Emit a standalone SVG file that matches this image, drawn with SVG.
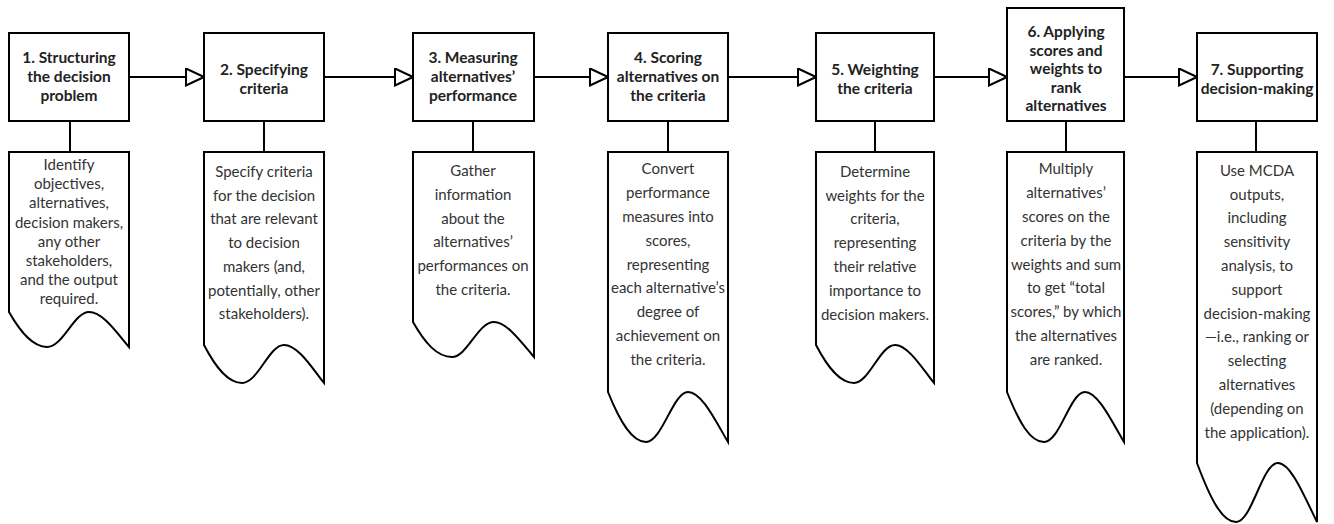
<svg xmlns="http://www.w3.org/2000/svg" width="1334" height="524" viewBox="0 0 1334 524">
<style>
.box{fill:#fff;stroke:#000;stroke-width:2}
.doc{fill:#fff;stroke:#000;stroke-width:2;stroke-linejoin:miter}
.t{font-family:Lato,"Liberation Sans",sans-serif;font-weight:bold;font-size:15.5px;fill:#222;text-anchor:middle}
.b{font-family:Lato,"Liberation Sans",sans-serif;font-size:15px;fill:#333;text-anchor:middle}
.c{fill:none;stroke:#000;stroke-width:2}
</style>
<defs>
<marker id="tri" viewBox="0 0 20 19" refX="19" refY="9.5" markerWidth="20" markerHeight="19" markerUnits="userSpaceOnUse" orient="auto">
<path d="M1,1 L19,9.5 L1,18 Z" fill="#fff" stroke="#000" stroke-width="2"/>
</marker>
</defs>
<rect width="1334" height="524" fill="#fff"/>
<g id="connectors">
<line class="c" x1="129" y1="77" x2="204" y2="77" marker-end="url(#tri)"/>
<line class="c" x1="324" y1="77" x2="413" y2="77" marker-end="url(#tri)"/>
<line class="c" x1="534" y1="77" x2="608" y2="77" marker-end="url(#tri)"/>
<line class="c" x1="728" y1="77" x2="816" y2="77" marker-end="url(#tri)"/>
<line class="c" x1="934" y1="77" x2="1007" y2="77" marker-end="url(#tri)"/>
<line class="c" x1="1124" y1="77" x2="1197" y2="77" marker-end="url(#tri)"/>
<line class="c" x1="70" y1="121" x2="70" y2="152"/>
<line class="c" x1="264" y1="121" x2="264" y2="152"/>
<line class="c" x1="473" y1="121" x2="473" y2="152"/>
<line class="c" x1="668" y1="121" x2="668" y2="152"/>
<line class="c" x1="875" y1="121" x2="875" y2="152"/>
<line class="c" x1="1066" y1="121" x2="1066" y2="152"/>
<line class="c" x1="1256" y1="121" x2="1256" y2="152"/>
</g>
<g id="step1">
<rect class="box" x="9" y="33" width="120" height="88"/>
<text class="t" x="69" y="63"><tspan x="69">1. Structuring</tspan><tspan x="69" dy="19">the decision</tspan><tspan x="69" dy="19">problem</tspan></text>
</g>
<g id="desc1">
<path class="doc" d="M9,152 H129 V347 C117,333 103,312 89,312 C74,312 63,347 47,347 C33,347 21,333 9,312 Z"/>
<text class="b" x="69" y="170"><tspan x="69">Identify</tspan><tspan x="69" dy="19.2">objectives,</tspan><tspan x="69" dy="19.2">alternatives,</tspan><tspan x="69" dy="19.2">decision makers,</tspan><tspan x="69" dy="19.2">any other</tspan><tspan x="69" dy="19.2">stakeholders,</tspan><tspan x="69" dy="19.2">and the output</tspan><tspan x="69" dy="19.2">required.</tspan></text>
</g>
<g id="step2">
<rect class="box" x="204" y="33" width="120" height="88"/>
<text class="t" x="264" y="75"><tspan x="264">2. Specifying</tspan><tspan x="264" dy="19">criteria</tspan></text>
</g>
<g id="desc2">
<path class="doc" d="M204,152 H324 V383 C312,368 298,345 284,345 C269,345 258,383 242,383 C228,383 216,368 204,345 Z"/>
<text class="b" x="264" y="177"><tspan x="264">Specify criteria</tspan><tspan x="264" dy="23.7">for the decision</tspan><tspan x="264" dy="23.7">that are relevant</tspan><tspan x="264" dy="23.7">to decision</tspan><tspan x="264" dy="23.7">makers (and,</tspan><tspan x="264" dy="23.7">potentially, other</tspan><tspan x="264" dy="23.7">stakeholders).</tspan></text>
</g>
<g id="step3">
<rect class="box" x="413" y="33" width="121" height="88"/>
<text class="t" x="473" y="63"><tspan x="473">3. Measuring</tspan><tspan x="473" dy="19">alternatives’</tspan><tspan x="473" dy="19">performance</tspan></text>
</g>
<g id="desc3">
<path class="doc" d="M413,152 H534 V357 C522,343 507,322 494,322 C478,322 467,357 452,357 C437,357 425,343 413,322 Z"/>
<text class="b" x="473" y="176"><tspan x="473">Gather</tspan><tspan x="473" dy="23.8">information</tspan><tspan x="473" dy="23.8">about the</tspan><tspan x="473" dy="23.8">alternatives’</tspan><tspan x="473" dy="23.8">performances on</tspan><tspan x="473" dy="23.8">the criteria.</tspan></text>
</g>
<g id="step4">
<rect class="box" x="608" y="33" width="120" height="88"/>
<text class="t" x="668" y="63"><tspan x="668">4. Scoring</tspan><tspan x="668" dy="19">alternatives on</tspan><tspan x="668" dy="19">the criteria</tspan></text>
</g>
<g id="desc4">
<path class="doc" d="M608,152 H728 V442 C716,422 702,392 688,392 C673,392 662,442 646,442 C632,442 620,422 608,392 Z"/>
<text class="b" x="668" y="174.3"><tspan x="668">Convert</tspan><tspan x="668" dy="23.8">performance</tspan><tspan x="668" dy="23.8">measures into</tspan><tspan x="668" dy="23.8">scores,</tspan><tspan x="668" dy="23.8">representing</tspan><tspan x="668" dy="23.8">each alternative’s</tspan><tspan x="668" dy="23.8">degree of</tspan><tspan x="668" dy="23.8">achievement on</tspan><tspan x="668" dy="23.8">the criteria.</tspan></text>
</g>
<g id="step5">
<rect class="box" x="816" y="33" width="118" height="88"/>
<text class="t" x="875" y="75"><tspan x="875">5. Weighting</tspan><tspan x="875" dy="19">the criteria</tspan></text>
</g>
<g id="desc5">
<path class="doc" d="M816,152 H934 V383 C922,368 908,345 895,345 C880,345 869,383 854,383 C840,383 828,368 816,345 Z"/>
<text class="b" x="875" y="176.7"><tspan x="875">Determine</tspan><tspan x="875" dy="23.8">weights for the</tspan><tspan x="875" dy="23.8">criteria,</tspan><tspan x="875" dy="23.8">representing</tspan><tspan x="875" dy="23.8">their relative</tspan><tspan x="875" dy="23.8">importance to</tspan><tspan x="875" dy="23.8">decision makers.</tspan></text>
</g>
<g id="step6">
<rect class="box" x="1007" y="8" width="117" height="113"/>
<text class="t" x="1066" y="37"><tspan x="1066">6. Applying</tspan><tspan x="1066" dy="18.5">scores and</tspan><tspan x="1066" dy="18.5">weights to</tspan><tspan x="1066" dy="18.5">rank</tspan><tspan x="1066" dy="18.5">alternatives</tspan></text>
</g>
<g id="desc6">
<path class="doc" d="M1007,152 H1124 V442 C1112,422 1098,392 1085,392 C1070,392 1060,442 1044,442 C1030,442 1019,422 1007,392 Z"/>
<text class="b" x="1066" y="174.3"><tspan x="1066">Multiply</tspan><tspan x="1066" dy="23.8">alternatives’</tspan><tspan x="1066" dy="23.8">scores on the</tspan><tspan x="1066" dy="23.8">criteria by the</tspan><tspan x="1066" dy="23.8">weights and sum</tspan><tspan x="1066" dy="23.8">to get “total</tspan><tspan x="1066" dy="23.8">scores,” by which</tspan><tspan x="1066" dy="23.8">the alternatives</tspan><tspan x="1066" dy="23.8">are ranked.</tspan></text>
</g>
<g id="step7">
<rect class="box" x="1197" y="33" width="120" height="88"/>
<text class="t" x="1257" y="75"><tspan x="1257">7. Supporting</tspan><tspan x="1257" dy="19">decision-making</tspan></text>
</g>
<g id="desc7">
<path class="doc" d="M1197,152 H1317 V522 C1305,498 1291,463 1278,463 C1262,463 1252,522 1236,522 C1222,522 1210,498 1197,463 Z"/>
<text class="b" x="1257" y="175.7"><tspan x="1257">Use MCDA</tspan><tspan x="1257" dy="23.8">outputs,</tspan><tspan x="1257" dy="23.8">including</tspan><tspan x="1257" dy="23.8">sensitivity</tspan><tspan x="1257" dy="23.8">analysis, to</tspan><tspan x="1257" dy="23.8">support</tspan><tspan x="1257" dy="23.8">decision-making</tspan><tspan x="1257" dy="23.8">—i.e., ranking or</tspan><tspan x="1257" dy="23.8">selecting</tspan><tspan x="1257" dy="23.8">alternatives</tspan><tspan x="1257" dy="23.8">(depending on</tspan><tspan x="1257" dy="23.8">the application).</tspan></text>
</g>
</svg>
